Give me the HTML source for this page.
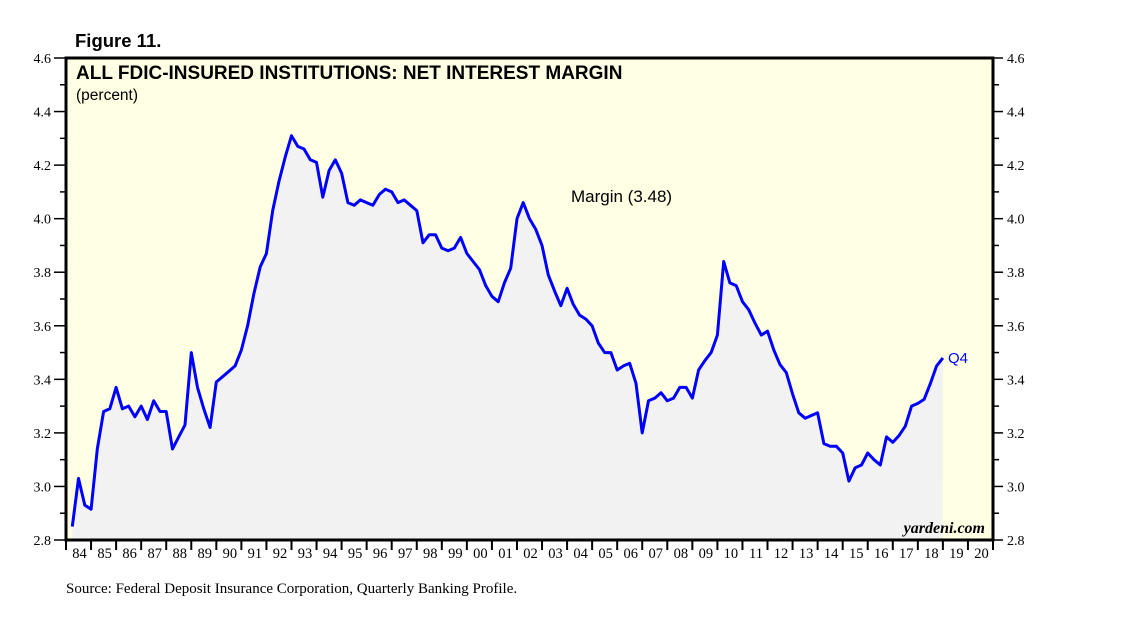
<!DOCTYPE html>
<html><head><meta charset="utf-8"><style>
body{margin:0;background:#fff;width:1138px;height:624px;overflow:hidden}
svg{display:block}
.s{font-family:"Liberation Serif",serif}
.a{font-family:"Liberation Sans",sans-serif}
</style></head><body>
<svg id="c" width="1138" height="624">
<text x="75" y="47" class="a" font-size="18.5" font-weight="bold">Figure 11.</text>
<rect x="66" y="58" width="927" height="482" fill="#ffffe3"/>
<g id="area"></g>
<rect x="66" y="58" width="927" height="482" fill="none" stroke="#000" stroke-width="3"/>
<g id="ticks"></g>
<text x="76" y="79" class="a" font-size="19" font-weight="bold">ALL FDIC-INSURED INSTITUTIONS: NET INTEREST MARGIN</text>
<text x="76" y="100" class="a" font-size="15.5">(percent)</text>
<text x="571" y="202" class="a" font-size="17">Margin (3.48)</text>
<text x="948" y="363" class="a" font-size="15" fill="#0000ff">Q4</text>
<text x="985" y="533" class="s" font-size="16" font-style="italic" font-weight="bold" text-anchor="end">yardeni.com</text>
<text x="66" y="593" class="s" font-size="15">Source: Federal Deposit Insurance Corporation, Quarterly Banking Profile.</text>
</svg>
<script>
const startYear = 1984;
const yearLabels = ["84","85","86","87","88","89","90","91","92","93","94","95","96","97","98","99","00","01","02","03","04","05","06","07","08","09","10","11","12","13","14","15","16","17","18","19","20"];
const yTicks = [2.8,3.0,3.2,3.4,3.6,3.8,4.0,4.2,4.4,4.6];
const margin = [2.85,3.03,2.93,2.915, 3.14,3.28,3.29,3.37, 3.29,3.30,3.26,3.30, 3.25,3.32,3.28,3.28,
3.14,3.185,3.23,3.50, 3.37,3.29,3.22,3.39, 3.41,3.43,3.45,3.51, 3.60,3.72,3.82,3.87,
4.03,4.14,4.23,4.31, 4.27,4.26,4.22,4.21, 4.08,4.18,4.22,4.17, 4.06,4.05,4.07,4.06,
4.05,4.09,4.11,4.10, 4.06,4.07,4.05,4.03, 3.91,3.94,3.94,3.89, 3.88,3.89,3.93,3.87,
3.84,3.81,3.75,3.71, 3.69,3.76,3.815,4.00, 4.06,4.00,3.96,3.90, 3.79,3.73,3.675,3.74,
3.68,3.64,3.625,3.60, 3.535,3.50,3.50,3.435, 3.45,3.46,3.385,3.20, 3.32,3.33,3.35,3.32,
3.33,3.37,3.37,3.33, 3.435,3.47,3.50,3.565, 3.84,3.76,3.75,3.69, 3.66,3.61,3.565,3.58,
3.51,3.455,3.425,3.345, 3.275,3.255,3.265,3.275, 3.16,3.15,3.15,3.125, 3.02,3.07,3.08,3.125,
3.10,3.08,3.185,3.165, 3.19,3.225,3.30,3.31, 3.325,3.385,3.45,3.48];

const L=66,R=993,T=58,B=540,yMin=2.8,yMax=4.6;
const yw=(R-L)/yearLabels.length;
const xq=i=>L+yw*(i+1)/4;
const y=v=>B-(v-yMin)/(yMax-yMin)*(B-T);
const NS="http://www.w3.org/2000/svg";
function mk(tag,attrs,parent){const e=document.createElementNS(NS,tag);for(const k in attrs)e.setAttribute(k,attrs[k]);parent.appendChild(e);return e;}
const area=document.getElementById('area'),ticks=document.getElementById('ticks');
let pts=margin.map((v,i)=>xq(i).toFixed(1)+','+y(v).toFixed(1));
const fill=mk('polygon',{points:xq(0)+','+B+' '+pts.join(' ')+' '+xq(margin.length-1)+','+B,fill:'#f2f2f2'},area);


const line=mk('polyline',{points:pts.join(' '),fill:'none',stroke:'#0000ff','stroke-width':3,'stroke-linejoin':'round'},area);


for(let k=0;k<=(yTicks.length-1)*2;k++){
  const v=yMin+k*0.1,yy=y(v),major=k%2===0;
  mk('line',{x1:L-(major?12:6),x2:L,y1:yy,y2:yy,stroke:'#000','stroke-width':1.5},ticks);
  mk('line',{x1:R,x2:R+(major?10:6),y1:yy,y2:yy,stroke:'#000','stroke-width':1.5},ticks);
}
yTicks.forEach(v=>{
  const t1=mk('text',{x:51,y:y(v)+5,'text-anchor':'end','font-size':14,class:'s'},ticks);t1.textContent=v.toFixed(1);
  
  
  const t2=mk('text',{x:1007,y:y(v)+5,'font-size':14,class:'s'},ticks);t2.textContent=v.toFixed(1);
  
  
});
yearLabels.forEach((lab,k)=>{
  const x0=L+k*yw;
  mk('line',{x1:x0,x2:x0,y1:B,y2:B+10,stroke:'#000','stroke-width':2},ticks);
  const t=mk('text',{x:x0+yw/2+1,y:558,'text-anchor':'middle','font-size':14.5,class:'s'},ticks);t.textContent=lab;
  
  
});
mk('line',{x1:R,x2:R,y1:B,y2:B+10,stroke:'#000','stroke-width':2},ticks);
</script>
</body></html>
